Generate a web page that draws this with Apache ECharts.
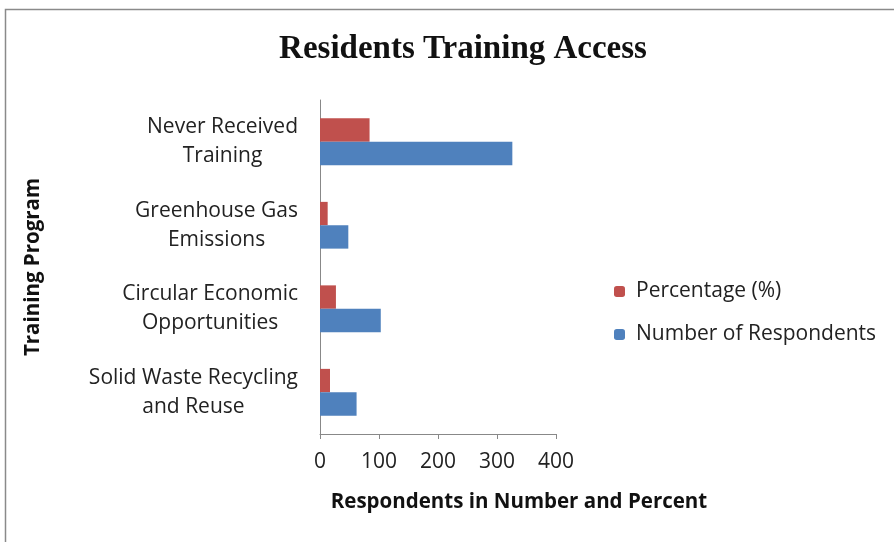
<!DOCTYPE html>
<html><head><meta charset="utf-8">
<script src="https://cdn.jsdelivr.net/npm/echarts@6/dist/echarts.min.js"></script>
<style>html,body{margin:0;padding:0;background:#fff}#c{width:894px;height:542px}</style>
</head><body><div id="c"></div>
<script>
const categories = ['Solid Waste Recycling\nand Reuse', 'Circular Economic\nOpportunities', 'Greenhouse Gas\nEmissions', 'Never Received\nTraining'];
const respondents = [62, 103, 48, 326];
const percentage = [17, 27, 13, 84];
const xTicks = [0, 100, 200, 300, 400];

const chart = echarts.init(document.getElementById('c'));
const FONT = 'Open Sans';
chart.setOption({
  animation: false,
  title: {
    text: 'Residents Training Access', left: 458, top: 28, textAlign: 'center',
    textStyle: { fontFamily: 'Liberation Serif', fontWeight: 'bold', fontSize: 33, color: '#111' }
  },
  graphic: [{ type: 'rect', shape: { x: 5.5, y: 9.5, width: 1200, height: 1200 }, style: { fill: 'none', stroke: '#8a8a8a', lineWidth: 1.5 }, silent: true }],
  legend: {
    orient: 'vertical', left: 609, top: 276, itemWidth: 11, itemHeight: 11, itemGap: 22,
    data: ['Percentage (%)', 'Number of Respondents'],
    textStyle: { fontFamily: FONT, fontSize: 21, color: '#222', padding: [0, 0, 0, 6] }
  },
  grid: { left: 320, right: 338, top: 100, bottom: 108, containLabel: false },
  xAxis: {
    type: 'value', min: xTicks[0], max: xTicks[xTicks.length - 1], interval: 100,
    name: 'Respondents in Number and Percent', nameLocation: 'middle', nameGap: 58,
    nameTextStyle: { fontFamily: FONT, fontWeight: 'bold', fontSize: 20.5, color: '#111', padding: [0, 0, 0, 162] },
    axisLine: { show: true, lineStyle: { color: '#888' } },
    axisTick: { show: true, length: 5, lineStyle: { color: '#888' } },
    axisLabel: { fontFamily: FONT, fontSize: 21, color: '#222', margin: 18 },
    splitLine: { show: false }
  },
  yAxis: {
    type: 'category', data: categories,
    name: 'Training Program', nameLocation: 'middle', nameGap: 276, nameRotate: 90,
    nameTextStyle: { fontFamily: FONT, fontWeight: 'bold', fontSize: 20.5, color: '#111' },
    axisLine: { show: true, lineStyle: { color: '#888' } },
    axisTick: { show: false },
    axisLabel: {
      margin: 22, align: 'right', lineHeight: 29,
      formatter: v => v.split('\n').map(s => '{c|' + s + '}').join('\n'),
      rich: { c: { align: 'center', fontFamily: FONT, fontSize: 21, color: '#222', lineHeight: 29 } }
    }
  },
  series: [
    { name: 'Percentage (%)', type: 'bar', data: percentage, itemStyle: { color: '#C0504D' }, barGap: '0%', barCategoryGap: '44%' },
    { name: 'Number of Respondents', type: 'bar', data: respondents, itemStyle: { color: '#4F81BD' }, barGap: '0%', barCategoryGap: '44%' }
  ]
});
</script></body></html>
